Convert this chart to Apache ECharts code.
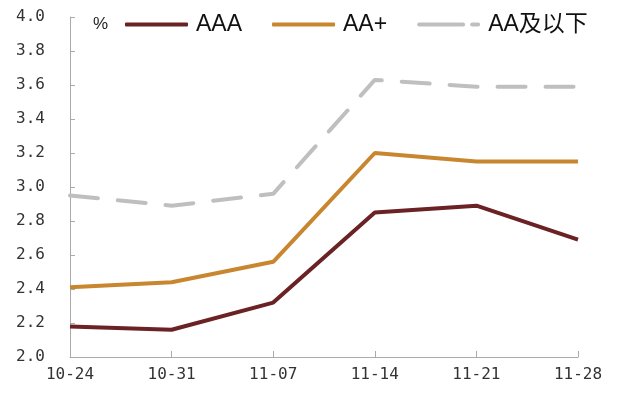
<!DOCTYPE html>
<html><head><meta charset="utf-8">
<script src="https://cdn.jsdelivr.net/npm/echarts@6/dist/echarts.min.js"></script>
<style>html,body{margin:0;padding:0;background:#fff}#c{width:634px;height:407px}</style>
</head><body><div id="c"></div>
<script>
const categories = ['10-24','10-31','11-07','11-14','11-21','11-28'];
const aaa = [2.18, 2.16, 2.32, 2.85, 2.89, 2.69];
const aaPlus = [2.41, 2.44, 2.56, 3.20, 3.15, 3.15];
const aaBelow = [2.95, 2.89, 2.96, 3.63, 3.59, 3.59];
const seriesNames = ['AAA', 'AA+', 'AA及以下'];
const axisFont = '"DejaVu Sans Mono", monospace';
const legendFont = '"Liberation Sans", "Noto Sans CJK SC", sans-serif';
const chart = echarts.init(document.getElementById('c'), null, {renderer: 'canvas'});
chart.setOption({
  animation: false,
  backgroundColor: '#fff',
  grid: {left: 70, right: 56, top: 17, bottom: 50, containLabel: false},
  graphic: [{type: 'text', left: 93, top: 16, style: {text: '%', fontSize: 17, fill: '#222', fontFamily: legendFont}}],
  legend: {
    top: 13, left: 125, padding: 0, itemWidth: 63, itemHeight: 4, itemGap: 30,
    textStyle: {fontSize: 23, color: '#111', fontFamily: legendFont, padding: [0,0,0,3]},
    data: [
      {name: seriesNames[0], icon: 'roundRect'},
      {name: seriesNames[1], icon: 'roundRect'},
      {name: seriesNames[2], icon: 'path://M2,0h44a2,2 0 0 1 0,4h-44a2,2 0 0 1 0,-4z M55,0h6a2,2 0 0 1 0,4h-6a2,2 0 0 1 0,-4z'}
    ]
  },
  xAxis: {
    type: 'category', data: categories, boundaryGap: false,
    axisLine: {lineStyle: {color: '#aaa', width: 1}},
    axisTick: {show: true, inside: true, length: 6, lineStyle: {color: '#aaa'}},
    axisLabel: {fontSize: 16, color: '#333', margin: 10, fontFamily: axisFont}
  },
  yAxis: {
    type: 'value', min: 2.0, max: 4.0, interval: 0.2,
    axisLine: {show: true, lineStyle: {color: '#aaa', width: 1}},
    axisTick: {show: true, inside: true, length: 5, lineStyle: {color: '#aaa'}},
    splitLine: {show: false},
    axisLabel: {fontSize: 16, color: '#333', margin: 25, fontFamily: axisFont, formatter: v => v.toFixed(1)}
  },
  series: [
    {name: seriesNames[0], type: 'line', data: aaa, symbol: 'none', lineStyle: {color: '#6B2225', width: 4}, itemStyle: {color: '#6B2225'}},
    {name: seriesNames[1], type: 'line', data: aaPlus, symbol: 'none', lineStyle: {color: '#C8862F', width: 4}, itemStyle: {color: '#C8862F'}},
    {name: seriesNames[2], type: 'line', data: aaBelow, symbol: 'none', lineStyle: {color: '#BFBFBF', width: 4, type: [28, 20], cap: 'round'}, itemStyle: {color: '#BFBFBF'}}
  ]
});
</script></body></html>
